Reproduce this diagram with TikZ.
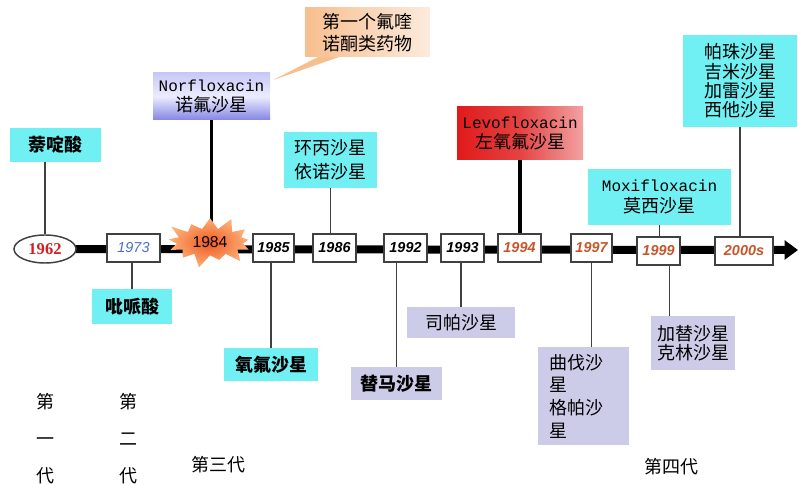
\documentclass[tikz,border=0pt]{standalone}
\usepackage{fontspec}
\newfontfamily\cjk{Noto Sans CJK SC}
\newfontfamily\arialf{Liberation Sans}
\newfontfamily\tnrf{Liberation Serif}
\newfontfamily\courf{Liberation Mono}
\usetikzlibrary{shapes.geometric,shapes.symbols,arrows.meta,backgrounds}
\definecolor{cyanbox}{HTML}{70F0F2}
\definecolor{lavbox}{HTML}{CCCCE8}
\definecolor{yrborder}{HTML}{404040}
\definecolor{yrblue}{HTML}{4A6CD6}
\definecolor{yrorange}{HTML}{C8552A}
\definecolor{yrred}{HTML}{D42020}
\definecolor{peachA}{HTML}{F7BE8E}
\definecolor{peachB}{HTML}{FCEBDD}
\definecolor{norA}{HTML}{C8C8F6}
\definecolor{norB}{HTML}{ECECFF}
\definecolor{norC}{HTML}{8585E6}
\definecolor{levoA}{HTML}{E01A1A}
\definecolor{levoB}{HTML}{F2A2A2}
\definecolor{starA}{HTML}{F05A1E}
\definecolor{starB}{HTML}{FCB07A}
\begin{document}
\begin{tikzpicture}[x=0.75pt,y=-0.75pt,
  cjkfont/.style={font=\cjk\fontsize{13.5}{15}\selectfont},
  box/.style={inner sep=0pt, align=center, cjkfont},
  cbox/.style={box, fill=cyanbox},
  lbox/.style={box, fill=lavbox},
  yearbox/.style={draw=yrborder, line width=1.1pt, fill=white, minimum height=21pt, inner sep=0pt,
    font=\arialf\bfseries\itshape\fontsize{10.8}{12}\selectfont},
  thinline/.style={line width=1.2pt, draw=black!75},
  thickline/.style={line width=2.4pt, draw=black},
  label/.style={inner sep=0pt, font=\cjk\fontsize{13.5}{15}\selectfont}
]
\useasboundingbox (0,0) rectangle (798,484);

% timeline year markers
\node[ellipse, draw=yrborder, line width=1.1pt, fill=white, minimum width=46.5pt, minimum height=21pt, inner sep=0pt,
  font=\tnrf\bfseries\fontsize{12.4}{14}\selectfont, text=yrred] (e62) at (45,249) {1962};
\node[yearbox, minimum width=39.75pt, text=yrblue, font=\arialf\itshape\fontsize{10.8}{12}\selectfont] (y73) at (133.5,248) {1973};
\node[starburst, starburst points=13, starburst point height=11pt, minimum width=72pt, minimum height=42pt, inner sep=0pt,
  inner color=starA, outer color=starB, font=\arialf\fontsize{11.8}{13}\selectfont] (star) at (210,242) {1984};
\node[yearbox, minimum width=30.75pt] (y85) at (273.5,248) {1985};
\node[yearbox, minimum width=32.25pt] (y86) at (334.5,248) {1986};
\node[yearbox, minimum width=32.25pt] (y92) at (405.5,248) {1992};
\node[yearbox, minimum width=32.25pt] (y93) at (462.5,248) {1993};
\node[yearbox, minimum width=32.25pt, text=yrorange] (y94) at (519.5,248) {1994};
\node[yearbox, minimum width=30.75pt, text=yrorange] (y97) at (591.5,248) {1997};
\node[yearbox, minimum width=32.25pt, text=yrorange] (y99) at (658.5,251) {1999};
\node[yearbox, minimum width=43.5pt, text=yrorange] (y00) at (744,251) {2000s};
\coordinate (tlend) at (798,250);

% upper boxes
\node[cbox, minimum width=68.25pt, minimum height=25.5pt, font=\cjk\bfseries\fontsize{13.5}{15}\selectfont] (nal) at (55.5,145) {萘啶酸};
\node[box, minimum width=87.75pt, minimum height=35.25pt, top color=norA, bottom color=norC, middle color=norB] (nor) at (211.5,96.5)
  {{\courf\fontsize{12}{15}\selectfont Norfloxacin}\\诺氟沙星};
\node[box, minimum width=93.75pt, minimum height=36.75pt, left color=peachA, right color=peachB,
  font=\cjk\fontsize{13.5}{17}\selectfont] (peach) at (367.5,32.5) {第一个氟喹\\诺酮类药物};
\node[cbox, minimum width=69.75pt, minimum height=42pt, font=\cjk\fontsize{13.5}{18}\selectfont] (cip) at (330.5,160) {环丙沙星\\依诺沙星};
\node[box, minimum width=94.5pt, minimum height=39.75pt, left color=levoA, right color=levoB, middle color=levoA!70!levoB] (levo) at (520,133.5)
  {{\courf\fontsize{12}{15}\selectfont Levofloxacin}\\左氧氟沙星};
\node[cbox, minimum width=107.25pt, minimum height=42pt, font=\cjk\fontsize{13.5}{16}\selectfont] (moxi) at (659.5,197)
  {{\courf\fontsize{12}{15}\selectfont Moxifloxacin}\\莫西沙星};
\node[cbox, minimum width=85.5pt, minimum height=69pt, font=\cjk\fontsize{13.5}{14.5}\selectfont] (paz) at (740,81)
  {帕珠沙星\\吉米沙星\\加雷沙星\\西他沙星};

% lower boxes
\node[cbox, minimum width=60pt, minimum height=26.25pt, font=\cjk\bfseries\fontsize{13.5}{15}\selectfont] (pip) at (132,306.5) {吡哌酸};
\node[cbox, minimum width=70.5pt, minimum height=24.75pt, font=\cjk\bfseries\fontsize{13.5}{15}\selectfont] (oflo) at (271,364.5) {氧氟沙星};
\node[lbox, minimum width=68.25pt, minimum height=24.75pt, font=\cjk\bfseries\fontsize{13.5}{15}\selectfont] (tema) at (396.5,383.5) {替马沙星};
\node[lbox, minimum width=81pt, minimum height=23.25pt] (spar) at (461,322.5) {司帕沙星};
\node[lbox, minimum width=68.25pt, minimum height=73.5pt, text width=51pt, align=left,
  font=\cjk\fontsize{13.5}{17}\selectfont] (trov) at (583.5,396) {曲伐沙\\星\\格帕沙\\星};
\node[lbox, minimum width=63pt, minimum height=40.5pt, font=\cjk\fontsize{13.5}{14.5}\selectfont] (gati) at (693,343) {加替沙星\\克林沙星};

% generation labels
\node[label, align=center, font=\cjk\fontsize{13.5}{27.75}\selectfont, anchor=north] (g1) at (45,393) {第\\一\\代};
\node[label, align=center, font=\cjk\fontsize{13.5}{27.75}\selectfont, anchor=north] (g2) at (128,393) {第\\二\\代};
\node[label] (g3) at (218,465) {第三代};
\node[label] (g4) at (671,467) {第四代};

% callout wedge
\coordinate (ctip) at (273,80);
\coordinate (cb1) at (320,56);
\coordinate (cb2) at (342,56);

\begin{scope}[on background layer]
  \draw[line width=6pt, -{Triangle[length=10pt,width=14pt]}] (e62.center) -- (tlend);
  \fill[peachA] (ctip) -- (cb1) -- (cb2) -- cycle;
  \draw[thinline] (e62.north) -- (e62.north |- nal.south);
  \draw[thickline] (nor.south) -- (nor.south |- star.center);
  \draw[thinline] (cip.south) -- (cip.south |- y86.north);
  \draw[thickline] (levo.south) -- (levo.south |- y94.north);
  \draw[thinline] (moxi.south) -- (moxi.south |- y99.north);
  \draw[thinline] (paz.south) -- (paz.south |- y00.north);
  \draw[thinline] (pip.north) -- (pip.north |- y73.south);
  \draw[thinline] (oflo.north) -- (oflo.north |- y85.south);
  \draw[thinline] (tema.north) -- (tema.north |- y92.south);
  \draw[thinline] (spar.north) -- (spar.north |- y93.south);
  \draw[thinline] (y97.south) -- (y97.south |- trov.north);
  \draw[thinline] ([xshift=8.25pt]y99.south) -- ([xshift=8.25pt]y99.south |- gati.north);
\end{scope}
\end{tikzpicture}
\end{document}
